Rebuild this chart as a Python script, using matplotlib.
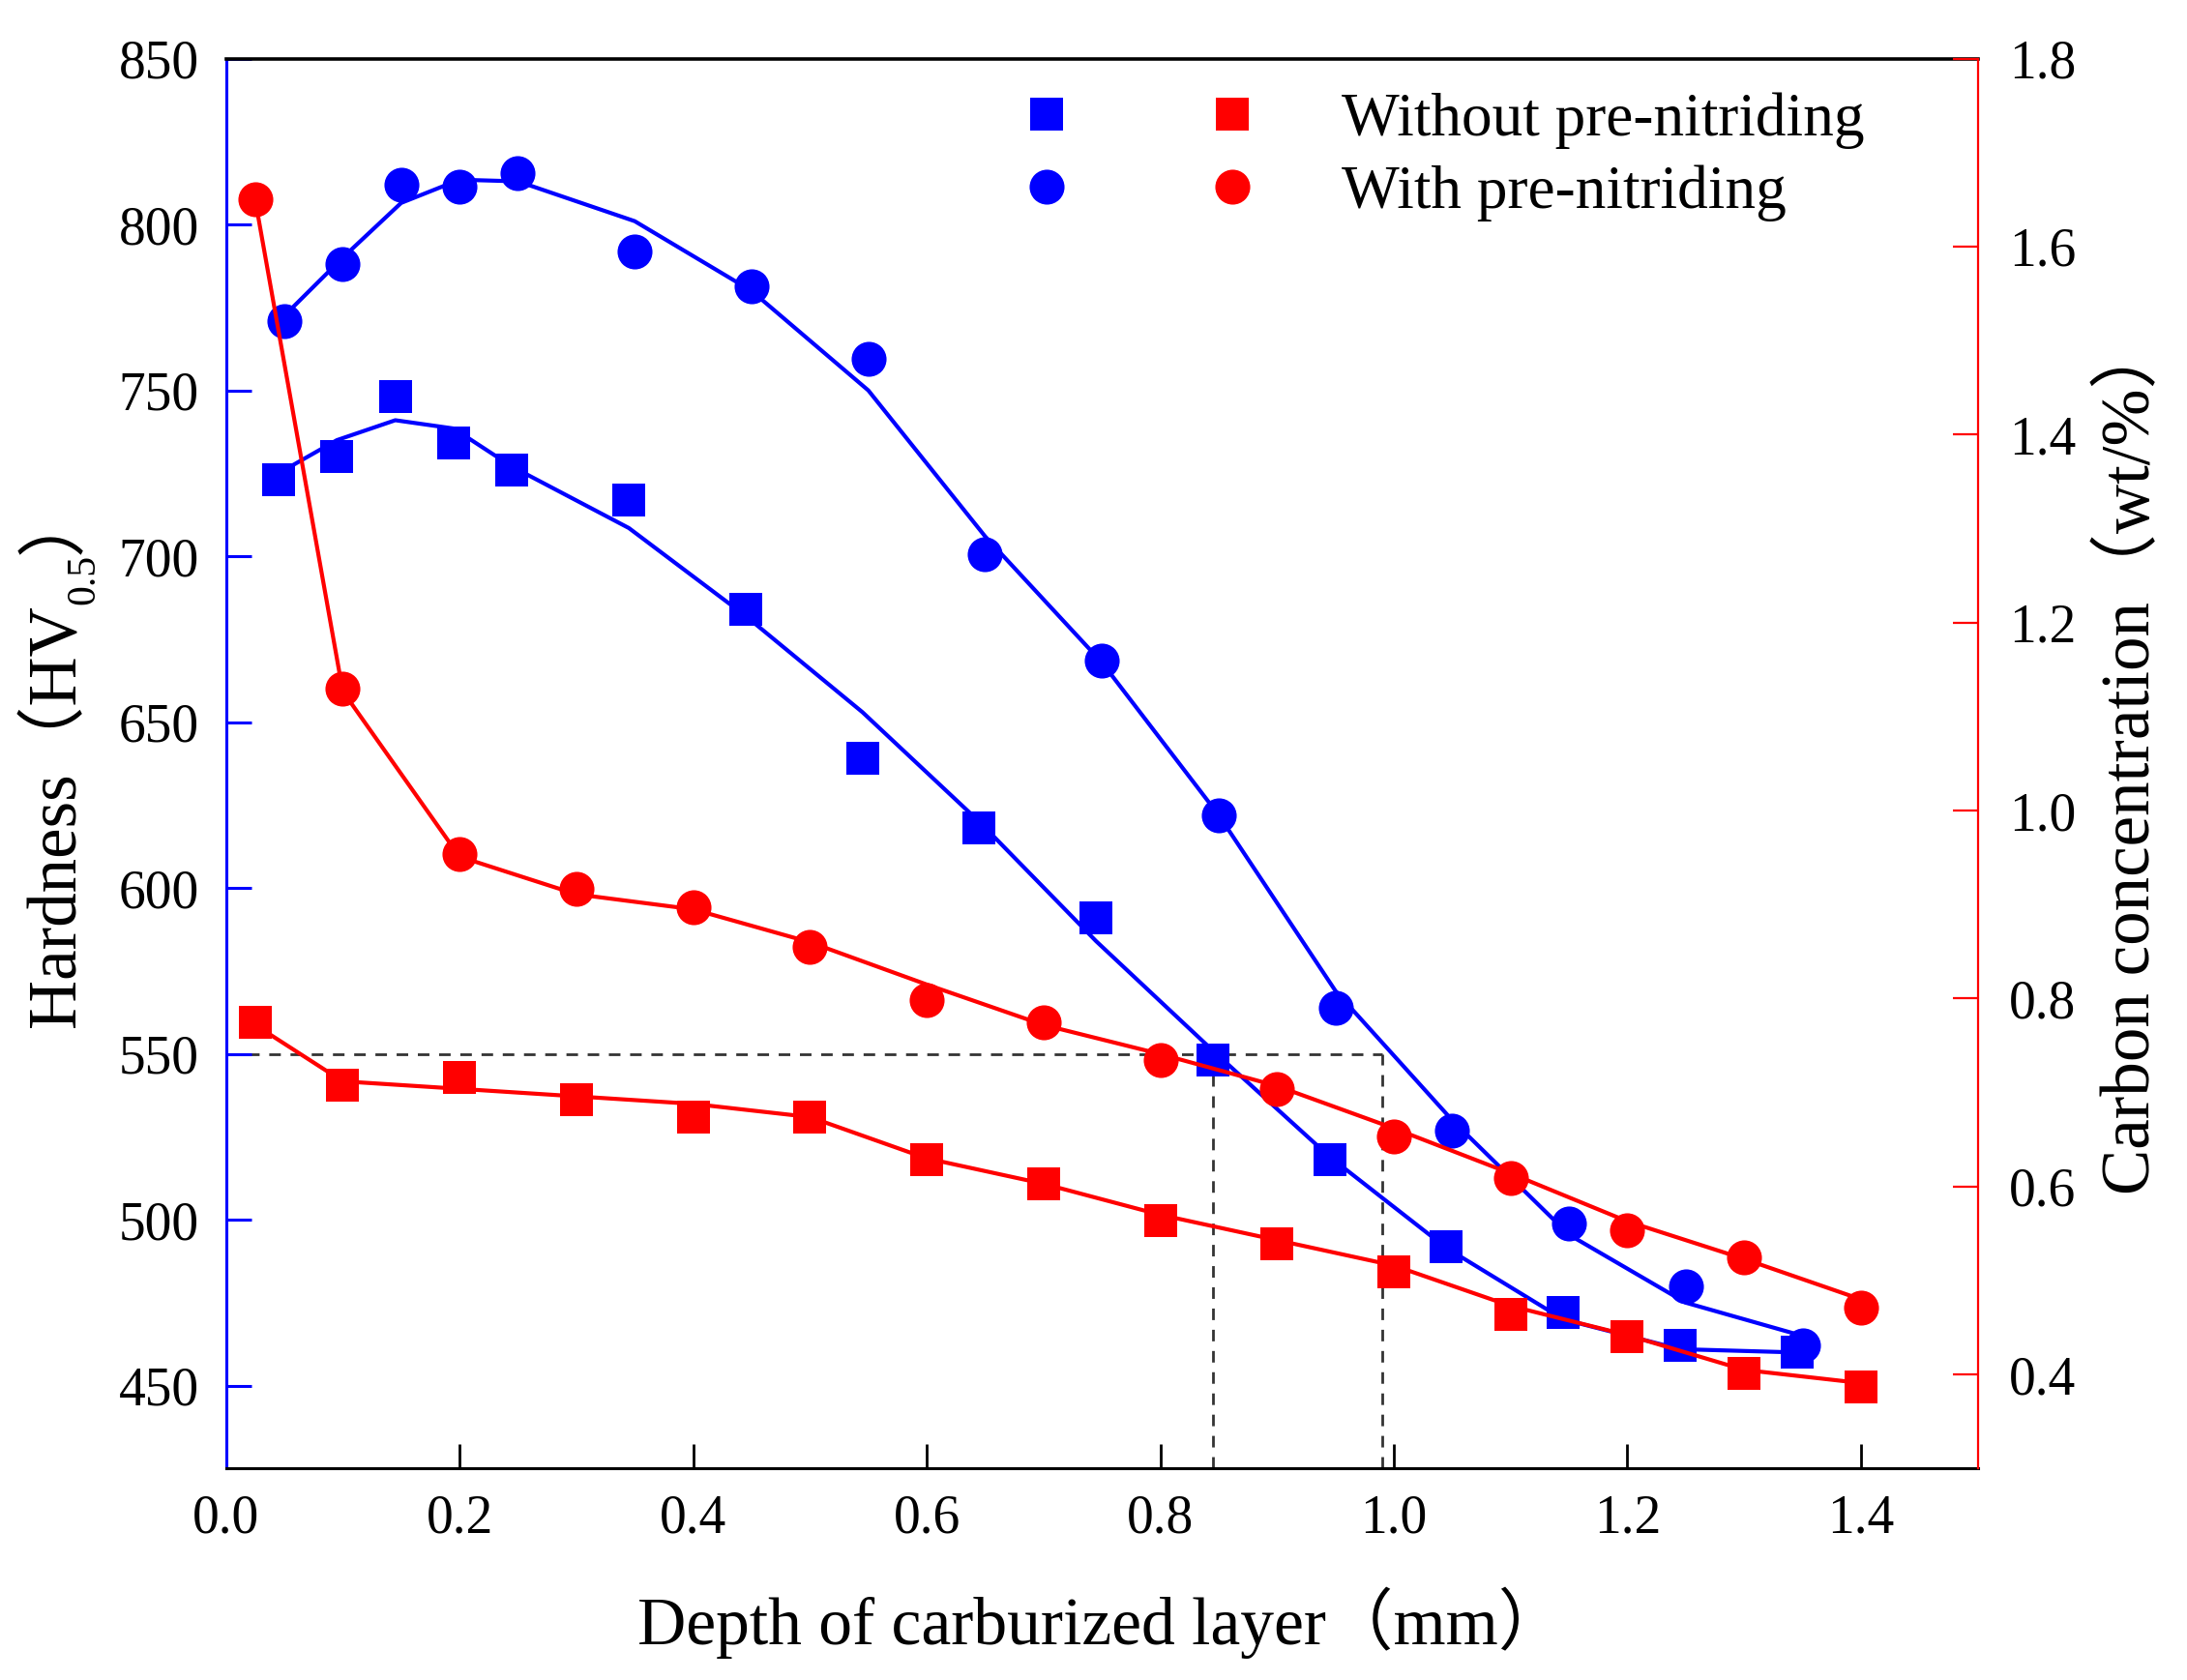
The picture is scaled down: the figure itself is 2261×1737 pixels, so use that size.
import matplotlib
matplotlib.use("Agg")
import matplotlib.pyplot as plt
from matplotlib.lines import Line2D
from matplotlib.legend_handler import HandlerTuple
from matplotlib.transforms import IdentityTransform

# hardness (left axis), measured a little before each 0.05 step
depth_sq = [0.045, 0.095, 0.145, 0.195, 0.245, 0.345, 0.445, 0.545,
            0.645, 0.745, 0.845, 0.945, 1.045, 1.145, 1.245, 1.345]
hv_without = [723, 730, 748, 734, 726, 717, 684, 639,
              618, 591, 548, 518, 492, 472, 462, 460]
hv_without_fit = [725, 735, 741, 738.5, 727, 708.5, 682, 653,
                  620, 584, 551, 519, 491.5, 470, 461, 460]

depth_circ = [0.05, 0.1, 0.15, 0.2, 0.25, 0.35, 0.45, 0.55,
              0.65, 0.75, 0.85, 0.95, 1.05, 1.15, 1.25, 1.35]
hv_with = [771, 788, 812, 811.5, 815.5, 792, 781.5, 759.5,
           700.5, 668.5, 622, 564, 527, 499, 480, 462]
hv_with_fit = [772.5, 790, 806.5, 813.5, 813, 801, 780, 750,
               706, 668, 622, 569, 530, 495.5, 475, 465]

# carbon concentration (right axis)
depth_c = [0.025, 0.1, 0.2, 0.3, 0.4, 0.5, 0.6, 0.7,
           0.8, 0.9, 1.0, 1.1, 1.2, 1.3, 1.4]
c_with = [1.650, 1.130, 0.954, 0.917, 0.897, 0.855, 0.798, 0.775,
          0.735, 0.704, 0.653, 0.609, 0.554, 0.525, 0.471]
c_with_fit = [1.650, 1.127, 0.951, 0.911, 0.895, 0.860, 0.815, 0.772,
              0.741, 0.707, 0.662, 0.614, 0.563, 0.523, 0.480]
c_without = [0.775, 0.708, 0.716, 0.692, 0.674, 0.674, 0.629, 0.603,
             0.564, 0.539, 0.509, 0.464, 0.440, 0.401, 0.387]
c_without_fit = [0.772, 0.712, 0.704, 0.696, 0.688, 0.674, 0.630, 0.603,
                 0.570, 0.543, 0.516, 0.473, 0.442, 0.405, 0.391]

hv_limit = 550
depth_marks = [0.845, 0.99]

labels = ["Without pre-nitriding", "With pre-nitriding"]

plt.rcParams['font.family'] = ['Liberation Serif', 'Noto Sans CJK SC']

W, H = 2261, 1737
fig = plt.figure(figsize=(W / 100, H / 100), dpi=100)
ax = fig.add_axes([233.6 / W, 1 - 1518.4 / H, (2044.7 - 233.6) / W, (1518.4 - 60.6) / H])
ax2 = ax.twinx()

lw = 3.0
ms_sq = 24
ms_ci = 26

# dashed guide lines
ax.hlines(hv_limit, 0, depth_marks[1], colors='#333333', lw=2.0,
          linestyles=(0, (4.3, 3.6)), zorder=1)
ax.vlines(depth_marks, 425, hv_limit, colors='#333333', lw=2.0,
          linestyles=(0, (4.3, 3.6)), zorder=1)

ax.plot(depth_sq, hv_without_fit, color='blue', lw=lw)
ax.plot(depth_sq, hv_without, 's', color='blue', ms=ms_sq, mew=0)
ax.plot(depth_circ, hv_with_fit, color='blue', lw=lw)
ax.plot(depth_circ, hv_with, 'o', color='blue', ms=ms_ci, mew=0)

ax2.plot(depth_c, c_without_fit, color='red', lw=lw)
ax2.plot(depth_c, c_without, 's', color='red', ms=ms_sq, mew=0)
ax2.plot(depth_c, c_with_fit, color='red', lw=lw)
ax2.plot(depth_c, c_with, 'o', color='red', ms=ms_ci, mew=0)

ax.set_xlim(0, 1.5)
ax.set_ylim(425, 850)
ax2.set_ylim(0.3, 1.8)
ax.set_xticks([0.0, 0.2, 0.4, 0.6, 0.8, 1.0, 1.2, 1.4])
ax.set_yticks([450, 500, 550, 600, 650, 700, 750, 800, 850])
ax2.set_yticks([0.4, 0.6, 0.8, 1.0, 1.2, 1.4, 1.6, 1.8])
ax.set_xticklabels(["0.0", "0.2", "0.4", "0.6", "0.8", "1.0", "1.2", "1.4"])
ax2.set_yticklabels(["0.4", "0.6", "0.8", "1.0", "1.2", "1.4", "1.6", "1.8"])

ax.tick_params(axis='x', direction='in', length=18, width=2, color='black',
               labelsize=40, pad=19)
ax.tick_params(axis='y', direction='in', length=19, width=2.2, color='blue',
               labelsize=40, pad=20, right=False)
ax2.tick_params(axis='y', direction='in', length=19, width=1.6, color='red',
                labelsize=40, pad=23, left=False)
ax.xaxis.get_major_ticks()[0].tick1line.set_visible(False)

for a in (ax, ax2):
    for s in a.spines.values():
        s.set_visible(False)
ax.spines['left'].set_visible(True)
ax.spines['left'].set_color('blue')
ax.spines['left'].set_linewidth(2.2)
ax.spines['bottom'].set_visible(True)
ax.spines['bottom'].set_linewidth(2.2)
ax.spines['top'].set_visible(True)
ax.spines['top'].set_linewidth(2.6)
ax2.spines['right'].set_visible(True)
ax2.spines['right'].set_color('red')
ax2.spines['right'].set_linewidth(1.6)

# legend: blue and red marker side by side in front of each label
h_sq = (Line2D([], [], ls='none', marker='s', color='blue', ms=ms_sq, mew=0),
        Line2D([], [], ls='none', marker='s', color='red', ms=ms_sq, mew=0))
h_ci = (Line2D([], [], ls='none', marker='o', color='blue', ms=ms_ci, mew=0),
        Line2D([], [], ls='none', marker='o', color='red', ms=ms_ci, mew=0))
leg_fs = 45.5
fs_px = leg_fs * 100 / 72
sub_w = 60
gap = 192 - sub_w
ax2.legend([h_sq, h_ci], labels,
           handler_map={tuple: HandlerTuple(ndivide=None, pad=gap / fs_px)},
           handlelength=(2 * sub_w + gap) / fs_px,
           handletextpad=(1387 - 1274 - sub_w / 2) / fs_px,
           labelspacing=0.26, fontsize=leg_fs, frameon=False,
           loc='upper left', borderpad=0, borderaxespad=0,
           bbox_to_anchor=((1082 - sub_w / 2) / W, 1 - 96 / H),
           bbox_transform=fig.transFigure)

# axis labels
fig.text(1139 / W, 1 - 1700 / H, "Depth of carburized layer（mm）",
         fontsize=50, ha='center', va='baseline')

renderer = fig.canvas.get_renderer()


def vertical_label(x_px, yc_px, parts):
    items = []
    total = 0
    for s, size, shift in parts:
        t = fig.text(0, 0, s, fontsize=size, rotation=90, rotation_mode='anchor',
                     ha='left', va='baseline', transform=IdentityTransform())
        n = t.get_window_extent(renderer).height
        items.append((t, shift, n))
        total += n
    y = yc_px - total / 2
    for t, shift, n in items:
        t.set_position((x_px + shift, y))
        y += n


vertical_label(77, H - 782, [("Hardness（HV", 51, 0), ("0.5", 30, 20), ("）", 51, 0)])
vertical_label(2222, H - 783, [("Carbon concentration（wt/%）", 51, 0)])

fig.savefig("out.png", dpi=100)
